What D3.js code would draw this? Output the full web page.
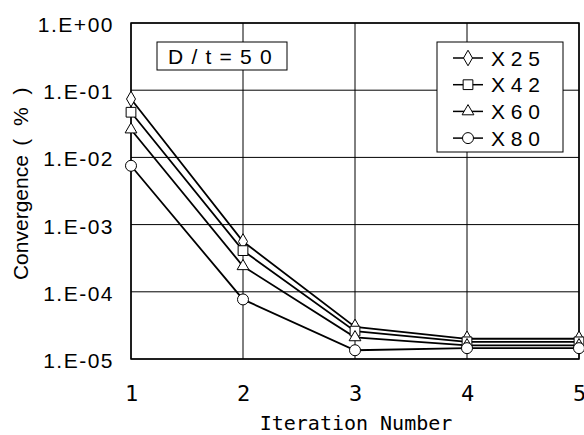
<!DOCTYPE html>
<html>
<head>
<meta charset="utf-8">
<script src="https://cdn.jsdelivr.net/npm/d3@7"></script>
<style>
  body { margin: 0; background: #fff; }
  svg text { fill: #000; }
</style>
</head>
<body>
<svg id="chart" width="584" height="435"></svg>
<script>
// data
const iterations = [1, 2, 3, 4, 5];
const seriesNames = ['X 2 5', 'X 4 2', 'X 6 0', 'X 8 0'];
const x25 = [0.074, 5.6e-4, 3.0e-5, 2.0e-5, 2.0e-5];
const x42 = [0.047, 4.1e-4, 2.6e-5, 1.8e-5, 1.8e-5];
const x60 = [0.026, 2.4e-4, 2.1e-5, 1.6e-5, 1.6e-5];
const x80 = [0.0075, 7.7e-5, 1.35e-5, 1.45e-5, 1.45e-5];
const yTicks = [1, 1e-1, 1e-2, 1e-3, 1e-4, 1e-5];
const yTickLabels = ['1.E+00', '1.E-01', '1.E-02', '1.E-03', '1.E-04', '1.E-05'];

const series = [
  { name: seriesNames[0], values: x25, symbol: 'diamond' },
  { name: seriesNames[1], values: x42, symbol: 'square' },
  { name: seriesNames[2], values: x60, symbol: 'triangle' },
  { name: seriesNames[3], values: x80, symbol: 'circle' },
];

const margin = { top: 23, right: 5, bottom: 76, left: 131 };
const width = 584, height = 435;
const svg = d3.select('#chart');
const sans = 'Liberation Sans, Arial, sans-serif';
const mono = 'DejaVu Sans Mono, Liberation Mono, monospace';

const x = d3.scaleLinear().domain([1, 5]).range([margin.left, width - margin.right]);
const y = d3.scaleLog().domain([1e-5, 1]).range([height - margin.bottom, margin.top]);

const symbolMap = {
  diamond: d3.symbolDiamond,
  square: d3.symbolSquare,
  triangle: d3.symbolTriangle,
  circle: d3.symbolCircle,
};
const symbolSize = { diamond: 70, square: 95, triangle: 60, circle: 95 };
const symbolPath = (s) => d3.symbol().type(symbolMap[s]).size(symbolSize[s])();

// grid
const grid = svg.append('g');
grid.selectAll('line.h')
  .data(yTicks)
  .join('line')
  .attr('x1', x(1)).attr('x2', x(5))
  .attr('y1', d => y(d)).attr('y2', d => y(d))
  .attr('stroke', '#000').attr('stroke-width', 1);
grid.selectAll('line.v')
  .data(iterations)
  .join('line')
  .attr('x1', d => x(d)).attr('x2', d => x(d))
  .attr('y1', y(1)).attr('y2', y(1e-5))
  .attr('stroke', '#000').attr('stroke-width', 1);

svg.append('rect')
  .attr('x', x(1)).attr('y', y(1))
  .attr('width', x(5) - x(1)).attr('height', y(1e-5) - y(1))
  .attr('fill', 'none').attr('stroke', '#000').attr('stroke-width', 1.5);

// axes
const yAxis = d3.axisLeft(y).tickValues(yTicks)
  .tickFormat((d, i) => yTickLabels[i]).tickSize(0).tickPadding(17);
svg.append('g')
  .attr('transform', `translate(${margin.left},0)`)
  .call(yAxis)
  .call(g => g.select('.domain').remove())
  .selectAll('text')
  .attr('font-family', sans)
  .attr('font-size', 21)
  .attr('letter-spacing', 1.5)
  .attr('dy', '0.4em');

const xAxis = d3.axisBottom(x).tickValues(iterations)
  .tickFormat(d3.format('d')).tickSize(0).tickPadding(26);
svg.append('g')
  .attr('transform', `translate(0,${height - margin.bottom})`)
  .call(xAxis)
  .call(g => g.select('.domain').remove())
  .selectAll('text')
  .attr('font-family', mono)
  .attr('font-size', 22);

// axis titles
svg.append('text')
  .attr('x', 356).attr('y', 430)
  .attr('text-anchor', 'middle')
  .attr('font-family', mono)
  .attr('font-size', 20)
  .text('Iteration Number');

const yTitle = svg.append('text')
  .attr('transform', 'translate(28,182) rotate(-90)')
  .attr('text-anchor', 'middle')
  .attr('font-family', sans)
  .attr('font-size', 21);
yTitle.append('tspan').text('Convergence');
yTitle.append('tspan').attr('letter-spacing', 3.5).text(' ( % )');

// lines
const line = d3.line().x((d, i) => x(iterations[i])).y(d => y(d));
svg.append('g')
  .selectAll('path')
  .data(series)
  .join('path')
  .attr('d', d => line(d.values))
  .attr('fill', 'none')
  .attr('stroke', '#000')
  .attr('stroke-width', 1.8);

// markers
series.forEach((s) => {
  svg.append('g')
    .selectAll('path')
    .data(s.values)
    .join('path')
    .attr('transform', (d, i) => `translate(${x(iterations[i])},${y(d)})`)
    .attr('d', symbolPath(s.symbol))
    .attr('fill', '#fff')
    .attr('stroke', '#000')
    .attr('stroke-width', 1);
});

// D/t label box
const note = svg.append('g');
note.append('rect')
  .attr('x', 157).attr('y', 42).attr('width', 130).attr('height', 28)
  .attr('fill', '#fff').attr('stroke', '#000').attr('stroke-width', 1);
note.append('text')
  .attr('x', 168).attr('y', 64)
  .attr('font-family', sans)
  .attr('font-size', 21)
  .attr('letter-spacing', 1.2)
  .text('D / t = 5 0');

// legend
const legend = svg.append('g');
legend.append('rect')
  .attr('x', 437).attr('y', 42).attr('width', 126).attr('height', 110)
  .attr('fill', '#fff').attr('stroke', '#000').attr('stroke-width', 1);
const rows = legend.selectAll('g.row')
  .data(series)
  .join('g')
  .attr('transform', (d, i) => `translate(0,${58 + i * 26.7})`);
rows.append('line')
  .attr('x1', 453).attr('x2', 483)
  .attr('stroke', '#000').attr('stroke-width', 1.5);
rows.append('path')
  .attr('transform', 'translate(468,0)')
  .attr('d', d => symbolPath(d.symbol))
  .attr('fill', '#fff').attr('stroke', '#000').attr('stroke-width', 1);
rows.append('text')
  .attr('x', 491).attr('y', 0).attr('dy', '0.36em')
  .attr('font-family', sans)
  .attr('font-size', 21)
  .text(d => d.name);
</script>
</body>
</html>
